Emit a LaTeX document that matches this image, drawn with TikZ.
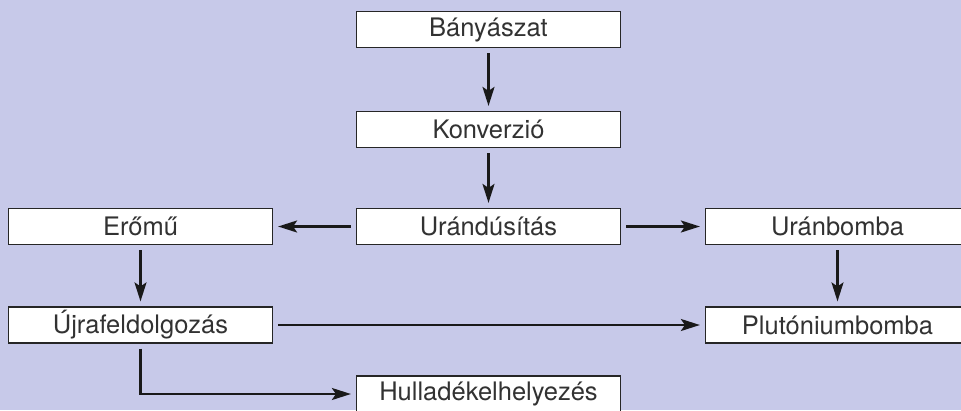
\documentclass[tikz,border=0pt]{standalone}
\usepackage{fontspec}
\setmainfont{TeX Gyre Heros}
\usetikzlibrary{arrows.meta}
\definecolor{bg}{RGB}{199,201,233}
\definecolor{txt}{RGB}{50,50,50}
\begin{document}
\begin{tikzpicture}[x=1pt,y=-1pt,
  box/.style={draw=black!85, line width=1.2pt, fill=white, minimum width=264pt, minimum height=36pt, inner sep=0pt, text=txt, font=\fontsize{25.5}{28}\selectfont},
  arr/.style={line width=2.2pt, draw=black!90, -{Stealth[length=19pt,width=12pt,inset=4pt]}, shorten >=5pt, shorten <=5pt}]
\fill[bg] (0,0) rectangle (961,410);
\useasboundingbox (0,0) rectangle (961,410);
\begin{scope}
\clip (0,0) rectangle (961,410);
\node[box] (b) at (488.5,29.5) {Bányászat};
\node[box] (k) at (488.5,129.5) {Konverzió};
\node[box] (u) at (488.5,226.5) {Urándúsítás};
\node[box] (e) at (140.5,226.5) {Erőmű};
\node[box] (ub) at (837.5,226.5) {Uránbomba};
\node[box] (j) at (140.5,325) {Újrafeldolgozás};
\node[box] (p) at (837.5,325) {Plutóniumbomba};
\node[box] (h) at (488.5,394) {Hulladékelhelyezés};
\draw[arr] (b) -- (k);
\draw[arr] (k) -- (u);
\draw[arr] (u) -- (e);
\draw[arr] (u) -- (ub);
\draw[arr] (e) -- (j);
\draw[arr] (ub) -- (p);
\draw[arr] (j) -- (p);
\draw[arr] (j.south) |- (h.west);
\end{scope}
\end{tikzpicture}
\end{document}
